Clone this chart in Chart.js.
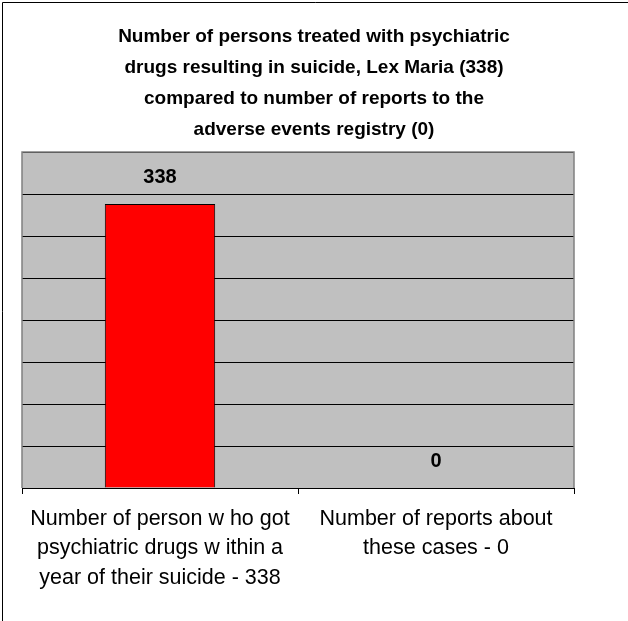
<!DOCTYPE html>
<html lang="en">
<head>
    <meta charset="UTF-8">
    <title>Psychiatric drugs and suicide</title>
    <style>
        html, body {
            margin: 0;
            padding: 0;
            background: #ffffff;
        }

        .chartContainer {
            position: relative;
            width: 628px;
            height: 621px;
        }
    </style>
</head>
<body>
    <div class="chartContainer">
        <canvas id="chartCanvas" width="628" height="621"></canvas>
    </div>
    <script src="https://cdn.jsdelivr.net/npm/chart.js"></script>
    <script>
        const titleLines = [
            "Number of persons treated with psychiatric",
            "drugs resulting in suicide, Lex Maria (338)",
            "compared to number of reports to the",
            "adverse events registry (0)"
        ];
        const categories = [
            ["Number of person w ho got", "psychiatric drugs w ithin a", "year of their suicide - 338"],
            ["Number of reports about", "these cases - 0"]
        ];
        const values = [338, 0];
        const yMin = 0;
        const yMax = 400;
        const yStep = 50;

        const fontFamily = "'Liberation Sans', Arial, sans-serif";

        // gray plot background, frame round the whole picture
        const backgroundPlugin = {
            id: "background",
            beforeDraw(chart) {
                const ctx = chart.ctx;
                const area = chart.chartArea;
                ctx.save();
                ctx.strokeStyle = "#000000";
                ctx.lineWidth = 1;
                ctx.beginPath();
                ctx.moveTo(2.5, 621);
                ctx.lineTo(2.5, 2.5);
                ctx.lineTo(628, 2.5);
                ctx.stroke();
                ctx.fillStyle = "#C0C0C0";
                ctx.fillRect(area.left, area.top, area.right - area.left, area.bottom - area.top);
                ctx.restore();
            },
            beforeDatasetsDraw(chart) {
                const ctx = chart.ctx;
                const area = chart.chartArea;
                ctx.save();
                ctx.strokeStyle = "#808080";
                ctx.lineWidth = 1.5;
                ctx.beginPath();
                ctx.moveTo(area.left, area.bottom);
                ctx.lineTo(area.left, area.top);
                ctx.lineTo(area.right, area.top);
                ctx.lineTo(area.right, area.bottom);
                ctx.stroke();
                ctx.restore();
            }
        };

        // value labels above each bar
        const valueLabelPlugin = {
            id: "valueLabels",
            afterDatasetsDraw(chart) {
                const ctx = chart.ctx;
                const meta = chart.getDatasetMeta(0);
                ctx.save();
                ctx.font = "bold 20px " + fontFamily;
                ctx.fillStyle = "#000000";
                ctx.textAlign = "center";
                ctx.textBaseline = "middle";
                meta.data.forEach((bar, i) => {
                    ctx.fillText(String(values[i]), bar.x, bar.y - 27);
                });
                ctx.restore();
            }
        };

        new Chart(document.getElementById("chartCanvas").getContext("2d"), {
            type: "bar",
            data: {
                labels: categories,
                datasets: [{
                    data: values,
                    backgroundColor: "#FF0000",
                    borderColor: "#000000",
                    borderWidth: 1,
                    barPercentage: 0.4,
                    categoryPercentage: 1.0
                }]
            },
            options: {
                responsive: false,
                animation: false,
                layout: {
                    padding: { left: 0, right: 0, top: 0, bottom: 18.5 }
                },
                plugins: {
                    legend: { display: false },
                    tooltip: { enabled: false },
                    title: {
                        display: true,
                        text: titleLines,
                        color: "#000000",
                        font: { family: fontFamily, size: 19, weight: "bold", lineHeight: 31 / 19 },
                        padding: { top: 21.5, bottom: 6.5 }
                    }
                },
                scales: {
                    x: {
                        offset: true,
                        grid: {
                            offset: true,
                            drawOnChartArea: false,
                            drawTicks: true,
                            tickLength: 6,
                            color: "#000000"
                        },
                        border: { display: true, color: "#000000", width: 1 },
                        ticks: {
                            color: "#000000",
                            padding: 10,
                            maxRotation: 0,
                            autoSkip: false,
                            font: { family: fontFamily, size: 21.5, lineHeight: 29.5 / 21.5 }
                        }
                    },
                    y: {
                        min: yMin,
                        max: yMax,
                        ticks: { display: false, stepSize: yStep },
                        grid: { color: "#000000", lineWidth: 1, drawTicks: false },
                        border: { display: false },
                        afterFit(scale) { scale.width = 22; }
                    },
                    yRight: {
                        position: "right",
                        min: yMin,
                        max: yMax,
                        ticks: { display: false },
                        grid: { display: false, drawTicks: false },
                        border: { display: false },
                        afterFit(scale) { scale.width = 54; }
                    }
                }
            },
            plugins: [backgroundPlugin, valueLabelPlugin]
        });
    </script>
</body>
</html>
